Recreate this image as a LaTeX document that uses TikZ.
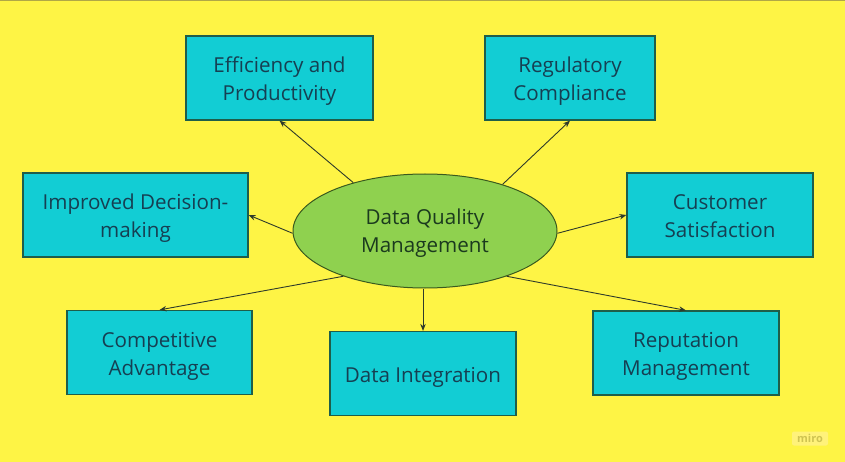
\documentclass[tikz,border=0pt]{standalone}
\usepackage{fontspec}
\setmainfont{Open Sans}
\usetikzlibrary{shapes.geometric,arrows.meta}
\definecolor{bgyellow}{HTML}{FEF445}
\definecolor{boxcyan}{HTML}{12CDD4}
\definecolor{boxborder}{HTML}{1E5E4A}
\definecolor{boxtext}{HTML}{163F52}
\definecolor{ellgreen}{HTML}{8FD14F}
\definecolor{elltext}{HTML}{1B3A1E}
\definecolor{ellborder}{HTML}{3A5A1E}
\definecolor{arrowcol}{HTML}{2E3A2A}
\definecolor{wmbox}{HTML}{FFF27A}
\definecolor{wmtext}{HTML}{CFC452}
\newcommand{\lbl}[2][-3pt]{\raisebox{#1}[\height][\depth]{\begin{tabular}{@{}c@{}}#2\end{tabular}}}
\tikzset{
  benefit/.style={draw=boxborder, line width=1.2pt, fill=boxcyan, text=boxtext,
    minimum width=#1, minimum height=84pt, inner sep=0pt,
    font=\fontsize{20.6}{28}\selectfont},
  benefit/.default=186pt,
  core/.style={ellipse, draw=ellborder, line width=1pt, fill=ellgreen, text=elltext,
    minimum width=264pt, minimum height=114pt, inner sep=0pt,
    font=\fontsize{20.6}{28}\selectfont},
  link/.style={draw=arrowcol, line width=0.9pt, -{Stealth[length=7pt,width=5.5pt]}}
}
\begin{document}
\begin{tikzpicture}[x=1pt,y=-1pt]
\fill[bgyellow] (0,0) rectangle (845,462);
\useasboundingbox (0,0) rectangle (845,462);
\draw[line width=1.2pt, draw=wmtext!85!black] (0,0.6) -- (845,0.6);

\node[core] (dqm) at (425,231) {\lbl[-2pt]{Data Quality\\Management}};

\node[benefit=187pt] (eff) at (279.5,78) {\lbl{Efficiency and\\Productivity}};
\node[benefit=170pt] (reg) at (570,78) {\lbl{Regulatory\\Compliance}};
\node[benefit=225pt] (imp) at (135.5,215) {\lbl{Improved Decision-\\making}};
\node[benefit=186pt] (cus) at (720,215) {\lbl{Customer\\Satisfaction}};
\node[benefit=185pt] (com) at (159.5,352.5) {\lbl{Competitive\\Advantage}};
\node[benefit=186pt] (din) at (423,373.5) {\lbl{Data Integration}};
\node[benefit=186pt] (rep) at (686,353) {\lbl{Reputation\\Management}};

\draw[link] (dqm.146.5) -- (eff.south);
\draw[link] (dqm.31.5) -- (reg.south);
\draw[link] (dqm.181) -- (imp.east);
\draw[link] (dqm.359) -- (cus.west);
\draw[link] (dqm.209.3) -- (com.north);
\draw[link] (dqm.south -| din.north) -- (din.north);
\draw[link] (dqm.331.6) -- (rep.north);

\node[fill=wmbox, rounded corners=2pt, minimum width=36pt, minimum height=14pt, inner sep=0pt,
  text=wmtext, font=\fontsize{11}{12}\selectfont\bfseries] (wm) at (810,438.5) {miro};
\end{tikzpicture}
\end{document}
